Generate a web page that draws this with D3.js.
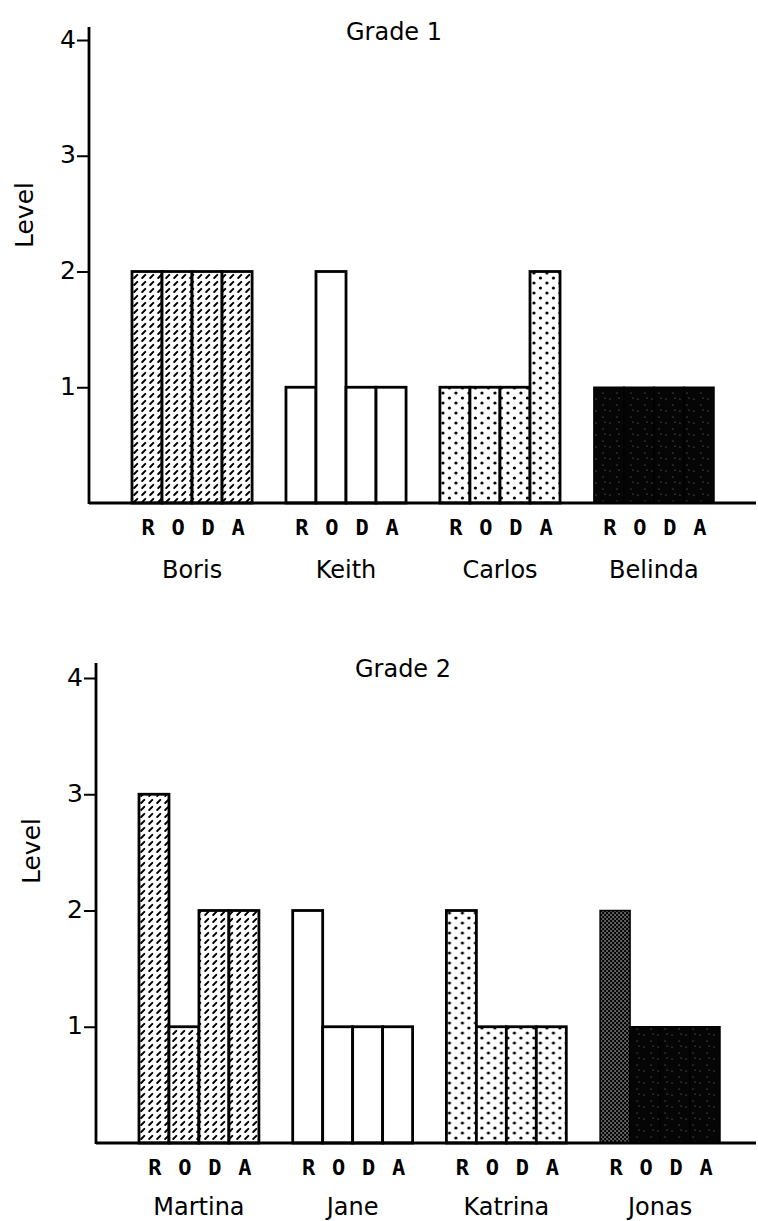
<!DOCTYPE html>
<html>
<head>
<meta charset="utf-8">
<script src="https://cdn.jsdelivr.net/npm/d3@7"></script>
<style>
  html, body { margin: 0; padding: 0; background: #fff; }
  svg { display: block; }
  text { font-family: "DejaVu Sans", "Liberation Sans", sans-serif; fill: #000; }
</style>
</head>
<body>
<svg id="chart" width="758" height="1221"></svg>
<script>
// ---- data ----
const skills = ["R", "O", "D", "A"];
const yTickValues = [1, 2, 3, 4];
const yLabel = "Level";

const grade1Title = "Grade 1";
const grade1Students = ["Boris", "Keith", "Carlos", "Belinda"];
const grade1Levels = [
  [2, 2, 2, 2],
  [1, 2, 1, 1],
  [1, 1, 1, 2],
  [1, 1, 1, 1]
];

const grade2Title = "Grade 2";
const grade2Students = ["Martina", "Jane", "Katrina", "Jonas"];
const grade2Levels = [
  [3, 1, 2, 2],
  [2, 1, 1, 1],
  [2, 1, 1, 1],
  [2, 1, 1, 1]
];

// ---- styling / layout ----
const groupFills = ["url(#hatch)", "#ffffff", "url(#dots)", "url(#dark)"];
const denseFill = "url(#dense)"; // first bar of the dark group in grade 2 prints lighter

const svg = d3.select("#chart");
const defs = svg.append("defs");

// hatch pattern: short diagonal dashes
const ph = defs.append("pattern").attr("id", "hatch").attr("patternUnits", "userSpaceOnUse")
  .attr("width", 8).attr("height", 7);
ph.append("rect").attr("width", 8).attr("height", 7).attr("fill", "#fff");
ph.append("line").attr("x1", 2.2).attr("y1", 5).attr("x2", 5.3).attr("y2", 1.9)
  .attr("stroke", "#000").attr("stroke-width", 2).attr("stroke-linecap", "round");

// dot pattern
const pd = defs.append("pattern").attr("id", "dots").attr("patternUnits", "userSpaceOnUse")
  .attr("width", 13).attr("height", 10);
pd.append("rect").attr("width", 13).attr("height", 10).attr("fill", "#fff");
pd.append("circle").attr("cx", 3).attr("cy", 3).attr("r", 1.6).attr("fill", "#000");
pd.append("circle").attr("cx", 9.5).attr("cy", 8).attr("r", 1.6).attr("fill", "#000");

// dark pattern: black with sparse specks
const pk = defs.append("pattern").attr("id", "dark").attr("patternUnits", "userSpaceOnUse")
  .attr("width", 14).attr("height", 12);
pk.append("rect").attr("width", 14).attr("height", 12).attr("fill", "#050505");
[[2, 3], [9, 9], [11, 2]].forEach(([cx, cy]) =>
  pk.append("circle").attr("cx", cx).attr("cy", cy).attr("r", 0.6).attr("fill", "#888"));

// dense stipple
const pn = defs.append("pattern").attr("id", "dense").attr("patternUnits", "userSpaceOnUse")
  .attr("width", 4).attr("height", 4);
pn.append("rect").attr("width", 4).attr("height", 4).attr("fill", "#000");
pn.append("circle").attr("cx", 1).attr("cy", 1).attr("r", 0.8).attr("fill", "#ddd");
pn.append("circle").attr("cx", 3).attr("cy", 3).attr("r", 0.8).attr("fill", "#ddd");

function drawPanel(cfg) {
  const g = svg.append("g");
  const y = d3.scaleLinear().domain([0, 4]).range([cfg.y0, cfg.y4]);
  const x = d3.scaleBand().domain(cfg.students).range([cfg.bx0, cfg.bx1])
    .paddingInner(0.22).paddingOuter(0);
  const xi = d3.scaleBand().domain(skills).range([0, x.bandwidth()]).padding(0);

  cfg.students.forEach((s, gi) => {
    const grp = g.append("g").attr("transform", `translate(${x(s)},0)`);
    const rows = cfg.levels[gi].map((v, k) => ({ skill: skills[k], v }));
    grp.selectAll("rect.b")
      .data(rows)
      .join("rect").attr("class", "b")
      .attr("x", d => xi(d.skill))
      .attr("y", d => y(d.v))
      .attr("width", xi.bandwidth())
      .attr("height", d => y(0) - y(d.v))
      .attr("fill", d => (cfg.dense && s === cfg.dense[0] && d.skill === cfg.dense[1]) ? denseFill : groupFills[gi])
      .attr("stroke", "#000")
      .attr("stroke-width", gi === 3 ? 1.5 : 2.8);
    // skill letters
    grp.selectAll("text.sk")
      .data(skills).join("text").attr("class", "sk")
      .attr("x", d => xi(d) + xi.bandwidth() / 2 + 1)
      .attr("y", cfg.skillY)
      .attr("text-anchor", "middle")
      .style("font-size", "22px")
      .style("font-weight", "bold")
      .style("font-family", "'DejaVu Sans Mono', monospace")
      .text(d => d);
    // student names
    grp.append("text")
      .attr("x", x.bandwidth() / 2)
      .attr("y", cfg.nameY)
      .attr("text-anchor", "middle")
      .style("font-size", "24px")
      .text(s);
  });

  // baseline
  g.append("line")
    .attr("x1", cfg.ax).attr("x2", cfg.baseEnd)
    .attr("y1", y(0)).attr("y2", y(0))
    .attr("stroke", "#000").attr("stroke-width", 2.8);

  // y axis
  const axis = d3.axisLeft(y).tickValues(yTickValues).tickSize(12).tickSizeOuter(0).tickPadding(1)
    .tickFormat(d3.format("d"));
  const ag = g.append("g").attr("transform", `translate(${cfg.ax},0)`).call(axis);
  ag.select(".domain").remove();
  ag.selectAll(".tick line").attr("stroke", "#000").attr("stroke-width", 2);
  ag.selectAll(".tick text").style("font-size", "25px").attr("fill", "#000")
    .attr("dy", "0.28em")
    .style("font-family", "'DejaVu Sans', sans-serif");
  g.append("line")
    .attr("x1", cfg.ax).attr("x2", cfg.ax)
    .attr("y1", y(0) + 1).attr("y2", cfg.axTop)
    .attr("stroke", "#000").attr("stroke-width", 2.8);

  // title
  g.append("text")
    .attr("x", cfg.titleX).attr("y", cfg.titleY)
    .attr("text-anchor", "middle")
    .style("font-size", "24px")
    .text(cfg.title);

  // y label
  g.append("text")
    .attr("transform", `translate(${cfg.lblX},${cfg.lblY}) rotate(-90)`)
    .attr("text-anchor", "middle")
    .attr("dy", "0.35em")
    .style("font-size", "25px")
    .text(yLabel);
}

drawPanel({
  title: grade1Title, students: grade1Students, levels: grade1Levels,
  ax: 89, y0: 503, y4: 40, axTop: 27, bx0: 132, bx1: 714, baseEnd: 756,
  skillY: 535, nameY: 578, titleX: 394, titleY: 40, lblX: 24, lblY: 215
});

drawPanel({
  title: grade2Title, students: grade2Students, levels: grade2Levels,
  ax: 96, y0: 1143, y4: 678, axTop: 663, bx0: 139, bx1: 720, baseEnd: 756,
  skillY: 1175, nameY: 1215, titleX: 403, titleY: 677, lblX: 31, lblY: 851,
  dense: ["Jonas", "R"]
});
</script>
</body>
</html>
